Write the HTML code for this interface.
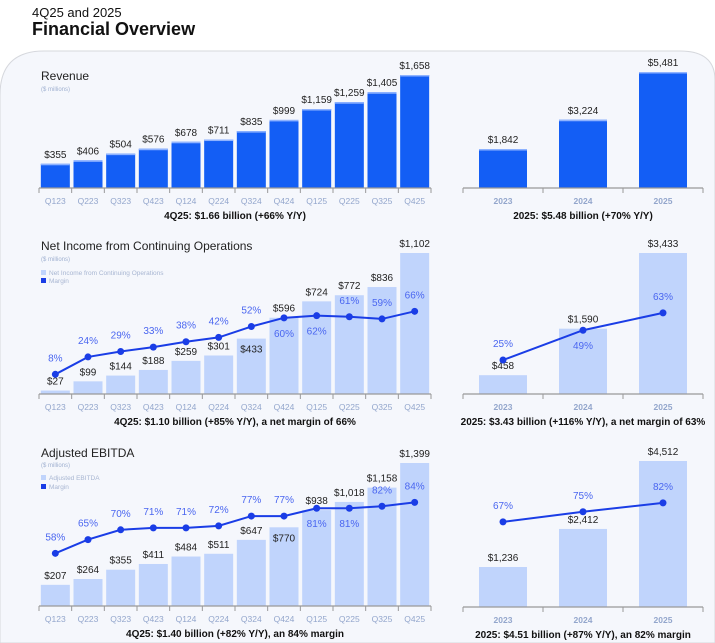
<!DOCTYPE html>
<html><head><meta charset="utf-8">
<style>
html,body{margin:0;padding:0;background:#fff;width:715px;height:643px;overflow:hidden;font-family:"Liberation Sans",sans-serif;}
svg{display:block}
text{font-family:"Liberation Sans",sans-serif}
</style></head>
<body>
<svg id="main" width="715" height="643">
  <path d="M0,95 Q0,51 44,51 L680,51 Q715,51 715,80 L715,643 L0,643 Z" fill="#f5f7fc" stroke="#d6d8dd" stroke-width="1"/>
  <text x="32" y="17" font-size="13" fill="#111">4Q25 and 2025</text>
  <text x="32" y="35" font-size="18" font-weight="bold" fill="#111">Financial Overview</text>

  <text x="41" y="80" font-size="12" fill="#222">Revenue</text>
  <text x="41" y="91" font-size="6" fill="#9fb0d0">($ millions)</text>

  <text x="41" y="250" font-size="12" fill="#222">Net Income from Continuing Operations</text>
  <text x="41" y="261" font-size="6" fill="#9fb0d0">($ millions)</text>
  <rect x="41" y="270" width="5" height="5" fill="#c0d4fc"/>
  <text x="49" y="275" font-size="6.5" fill="#a8b6d2">Net Income from Continuing Operations</text>
  <rect x="41" y="278" width="5" height="5" fill="#1a3de6"/>
  <text x="49" y="283" font-size="6.5" fill="#a8b6d2">Margin</text>

  <text x="41" y="457" font-size="12" fill="#222">Adjusted EBITDA</text>
  <text x="41" y="467" font-size="6" fill="#9fb0d0">($ millions)</text>
  <rect x="41" y="475" width="5" height="5" fill="#c0d4fc"/>
  <text x="49" y="480" font-size="6.5" fill="#a8b6d2">Adjusted EBITDA</text>
  <rect x="41" y="484" width="5" height="5" fill="#1a3de6"/>
  <text x="49" y="489" font-size="6.5" fill="#a8b6d2">Margin</text>
</svg>
<script>
const quarters = ["Q123","Q223","Q323","Q423","Q124","Q224","Q324","Q424","Q125","Q225","Q325","Q425"];
const years = ["2023","2024","2025"];
const revenueQ = [355,406,504,576,678,711,835,999,1159,1259,1405,1658];
const revenueY = [1842,3224,5481];
const netIncomeQ = [27,99,144,188,259,301,433,596,724,772,836,1102];
const netMarginQ = [8,24,29,33,38,42,52,60,62,61,59,66];
const netIncomeY = [458,1590,3433];
const netMarginY = [25,49,63];
const ebitdaQ = [207,264,355,411,484,511,647,770,938,1018,1158,1399];
const ebitdaMarginQ = [58,65,70,71,71,72,77,77,81,81,82,84];
const ebitdaY = [1236,2412,4512];
const ebitdaMarginY = [67,75,82];
const captions = [
 "4Q25: $1.66 billion (+66% Y/Y)",
 "2025: $5.48 billion (+70% Y/Y)",
 "4Q25: $1.10 billion (+85% Y/Y), a net margin of 66%",
 "2025:  $3.43 billion (+116% Y/Y), a net margin of 63%",
 "4Q25: $1.40 billion (+82% Y/Y), an 84% margin",
 "2025: $4.51 billion (+87% Y/Y), an 82% margin"
];
// placement flags: 1 = percent label below dot
const netPctBelowQ = [0,0,0,0,0,0,0,1,1,0,0,0];
const netPctBelowY = [0,1,0];
const ebPctBelowQ = [0,0,0,0,0,0,0,0,1,1,0,0];
const ebPctBelowY = [0,0,0];
// placement flags: 1 = value label inside bar
const netValInsideQ = [0,0,0,0,0,0,1,0,0,0,0,0];
const ebValInsideQ = [0,0,0,0,0,0,0,1,0,0,0,0];

const NS="http://www.w3.org/2000/svg";
const svg=document.getElementById('main');
function el(tag,attrs,txt){const e=document.createElementNS(NS,tag);for(const k in attrs)e.setAttribute(k,attrs[k]);if(txt!==undefined)e.textContent=txt;svg.appendChild(e);return e;}
function fmt(v){return "$"+v.toLocaleString("en-US");}

function chart(o){
  const n=o.cats.length, slot=(o.x1-o.x0)/n;
  const xc=i=>o.x0+slot*(i+0.5);
  const yv=v=>o.base-v*o.scale;
  o.vals.forEach((v,i)=>{
    const r=el('rect',{x:xc(i)-o.bw/2,y:yv(v),width:o.bw,height:o.base-yv(v),fill:o.fill});
    
    
    if(o.edge){const e=el('rect',{x:xc(i)-o.bw/2,y:yv(v),width:o.bw,height:1.5,fill:'#8fb3ff'});
      }
    const inside=o.inside&&o.inside[i];
    const t=el('text',{x:xc(i),y:inside?yv(v)+14:yv(v)-o.lblGap,'font-size':o.fs,'text-anchor':'middle',fill:'#222'},fmt(v));
    
    
    const c=el('text',{x:xc(i),y:o.base+16,'font-size':o.cfs,'text-anchor':'middle',fill:'#93a6cc','font-weight':o.cbold?'bold':'normal'},o.cats[i]);
    
    
  });
  const ax=el('line',{x1:o.x0,y1:o.base,x2:o.x1,y2:o.base,stroke:'#999','stroke-width':1.2});
  
  for(let i=0;i<=n;i++){const tk=el('line',{x1:o.x0+slot*i,y1:o.base,x2:o.x0+slot*i,y2:o.base+5,stroke:'#999','stroke-width':1});
    }
  if(o.margins){
    const ym=m=>o.my0-m*o.mscale;
    const pts=o.margins.map((m,i)=>xc(i)+','+ym(m)).join(' ');
    const pl=el('polyline',{points:pts,fill:'none',stroke:'#1a3de6','stroke-width':2});
    
    o.margins.forEach((m,i)=>{
      const d=el('circle',{cx:xc(i),cy:ym(m),r:3.5,fill:'#1a3de6'});
      
      
      const below=o.below[i];
      const t=el('text',{x:xc(i),y:below?ym(m)+19:ym(m)-13,'font-size':o.fs,'text-anchor':'middle',fill:'#4a66f0'},m+'%');
      
      
    });
  }
  const cp=el('text',{x:(o.x0+o.x1)/2,y:o.base+31,'font-size':10,'font-weight':'bold','text-anchor':'middle',fill:'#111'},o.caption);
  
}

chart({key:'revenue-q',cats:quarters,vals:revenueQ,x0:39,x1:431,base:188,scale:113/1658,bw:29,fill:'#135ef5',edge:true,fs:10,cfs:8.5,lblGap:6,caption:captions[0]});
chart({key:'revenue-y',cats:years,vals:revenueY,x0:463,x1:703,base:188,scale:116/5481,bw:48,fill:'#135ef5',edge:true,fs:10,cfs:8.5,cbold:true,lblGap:6,caption:captions[1]});
chart({key:'net-income-q',cats:quarters,vals:netIncomeQ,x0:39,x1:431,base:394,scale:141/1102,bw:29,fill:'#c0d4fc',fs:10,cfs:8.5,lblGap:6,inside:netValInsideQ,
  margins:netMarginQ,my0:383,mscale:1.086,below:netPctBelowQ,caption:captions[2]});
chart({key:'net-income-y',cats:years,vals:netIncomeY,x0:463,x1:703,base:394,scale:141/3433,bw:48,fill:'#c0d4fc',fs:10,cfs:8.5,cbold:true,lblGap:6,
  margins:netMarginY,my0:391,mscale:1.24,below:netPctBelowY,caption:captions[3]});
chart({key:'ebitda-q',cats:quarters,vals:ebitdaQ,x0:39,x1:431,base:606,scale:143/1399,bw:29,fill:'#c0d4fc',fs:10,cfs:8.5,lblGap:6,inside:ebValInsideQ,
  margins:ebitdaMarginQ,my0:667,mscale:1.96,below:ebPctBelowQ,caption:captions[4]});
chart({key:'ebitda-y',cats:years,vals:ebitdaY,x0:463,x1:703,base:607,scale:146/4512,bw:48,fill:'#c0d4fc',fs:10,cfs:8.5,cbold:true,lblGap:6,
  margins:ebitdaMarginY,my0:607,mscale:1.27,below:ebPctBelowY,caption:captions[5]});
</script>
</body></html>
